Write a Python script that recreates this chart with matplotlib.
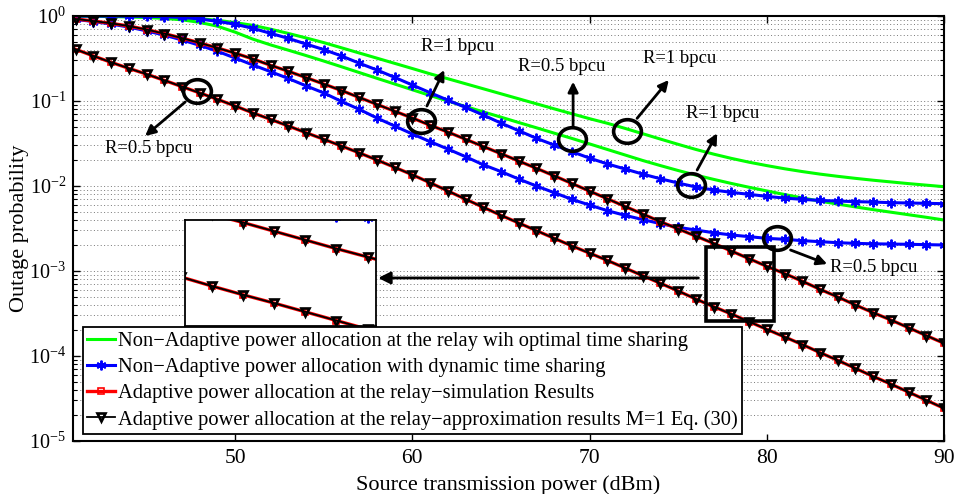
import numpy as np
import matplotlib
matplotlib.use('Agg')
import matplotlib.pyplot as plt
from matplotlib.path import Path
from matplotlib.transforms import Affine2D
from matplotlib.patches import Rectangle
import matplotlib.ticker as mticker

plt.rcParams['font.family'] = ['Liberation Serif', 'DejaVu Serif']
plt.rcParams['mathtext.fontset'] = 'custom'
plt.rcParams['mathtext.rm'] = 'Liberation Serif'
plt.rcParams['mathtext.default'] = 'regular'

# ---------------- data (log10 of outage probability) ----------------
power_dbm = list(range(41, 91))

green_r1_log10 = [-0.000, -0.001, -0.002, -0.004, -0.007, -0.012, -0.020, -0.032, -0.050, -0.078,
                  -0.110, -0.155, -0.205, -0.258, -0.313, -0.374, -0.435, -0.496, -0.557, -0.618,
                  -0.680, -0.738, -0.797, -0.856, -0.915, -0.974, -1.033, -1.092, -1.150, -1.208,
                  -1.262, -1.322, -1.385, -1.448, -1.510, -1.570, -1.625, -1.675, -1.720, -1.760,
                  -1.797, -1.830, -1.860, -1.886, -1.910, -1.932, -1.952, -1.972, -1.990, -2.008]
green_r05_log10 = [-0.002, -0.004, -0.007, -0.011, -0.018, -0.028, -0.045, -0.075, -0.120, -0.190,
                   -0.272, -0.340, -0.402, -0.465, -0.530, -0.597, -0.665, -0.733, -0.800, -0.868,
                   -0.935, -1.000, -1.065, -1.128, -1.190, -1.253, -1.315, -1.378, -1.440, -1.505,
                   -1.570, -1.635, -1.700, -1.760, -1.818, -1.872, -1.922, -1.970, -2.015, -2.058,
                   -2.100, -2.140, -2.178, -2.213, -2.246, -2.278, -2.308, -2.338, -2.368, -2.400]
blue_r1_log10 = [-0.001, -0.001, -0.002, -0.003, -0.004, -0.008, -0.017, -0.035, -0.063, -0.097,
                 -0.145, -0.204, -0.263, -0.330, -0.395, -0.470, -0.555, -0.635, -0.722, -0.812,
                 -0.902, -0.990, -1.075, -1.165, -1.260, -1.349, -1.439, -1.518, -1.596, -1.672,
                 -1.740, -1.800, -1.860, -1.915, -1.965, -2.012, -2.047, -2.075, -2.098, -2.122,
                 -2.142, -2.157, -2.170, -2.177, -2.184, -2.189, -2.196, -2.200, -2.204, -2.208]
blue_r05_log10 = [-0.040, -0.065, -0.095, -0.130, -0.175, -0.225, -0.282, -0.345, -0.415, -0.495,
                  -0.576, -0.655, -0.735, -0.822, -0.905, -1.005, -1.098, -1.200, -1.294, -1.388,
                  -1.478, -1.565, -1.655, -1.750, -1.830, -1.918, -2.000, -2.078, -2.157, -2.224,
                  -2.290, -2.345, -2.395, -2.443, -2.486, -2.518, -2.550, -2.576, -2.596, -2.616,
                  -2.627, -2.643, -2.655, -2.667, -2.675, -2.680, -2.683, -2.686, -2.690, -2.694]
adapt_r1_log10 = [-0.035, -0.059, -0.086, -0.118, -0.160, -0.207, -0.260, -0.316, -0.376, -0.438,
                  -0.505, -0.580, -0.650, -0.725, -0.800, -0.877, -0.958, -1.040, -1.120, -1.200,
                  -1.285, -1.365, -1.450, -1.535, -1.620, -1.706, -1.792, -1.880, -1.970, -2.060,
                  -2.150, -2.240, -2.330, -2.420, -2.505, -2.590, -2.675, -2.765, -2.855, -2.945,
                  -3.030, -3.120, -3.215, -3.305, -3.400, -3.490, -3.576, -3.667, -3.760, -3.850]
adapt_r05_log10 = [-0.392, -0.470, -0.545, -0.616, -0.684, -0.757, -0.831, -0.905, -0.980, -1.059,
                   -1.140, -1.216, -1.294, -1.373, -1.450, -1.530, -1.610, -1.694, -1.780, -1.868,
                   -1.962, -2.058, -2.155, -2.250, -2.345, -2.435, -2.525, -2.615, -2.705, -2.790,
                   -2.875, -2.965, -3.055, -3.145, -3.235, -3.330, -3.420, -3.506, -3.596, -3.686,
                   -3.775, -3.865, -3.960, -4.050, -4.145, -4.240, -4.330, -4.425, -4.520, -4.615]

legend_labels = [
    'Non\u2212Adaptive power allocation at the relay wih optimal time sharing',
    'Non\u2212Adaptive power allocation with dynamic time sharing',
    'Adaptive power allocation at the relay\u2212simulation Results',
    'Adaptive power allocation at the relay\u2212approximation results M=1 Eq. (30)',
]
x_ticks = [50, 60, 70, 80, 90]

# annotations: (text, circle (x, log10 y), arrow tail, arrow head, label position)
ann_text = ['R=0.5 bpcu', 'R=1 bpcu', 'R=0.5 bpcu', 'R=1 bpcu', 'R=1 bpcu', 'R=0.5 bpcu']
ann_circle = [(47.87, -0.879), (60.49, -1.232), (69.01, -1.451), (72.13, -1.353), (75.75, -1.988), (80.59, -2.615)]
ann_tail = [(47.18, -1.012), (60.82, -1.059), (69.07, -1.294), (72.68, -1.204), (76.07, -1.812), (81.34, -2.753)]
ann_head = [(44.92, -1.412), (61.80, -0.635), (69.07, -0.773), (74.47, -0.753), (77.20, -1.380), (83.41, -2.918)]
ann_label = [(45.10, -1.556), (62.56, -0.361), (68.45, -0.596), (75.07, -0.498), (77.48, -1.145), (86.04, -2.956)]

# zoom rectangle and inset ranges
zoom_rect_x = (76.55, 80.40)
zoom_rect_log10 = (-3.585, -2.721)
inset_xlim = (75.14, 81.26)
inset_ylim_log10 = (-3.742, -2.649)
zoom_arrow_x = (76.14, 58.07)
zoom_arrow_log10 = -3.082

# ---------------- figure ----------------
W, H = 958, 494
fig = plt.figure(figsize=(W / 100, H / 100), dpi=100)
ax = fig.add_axes([73 / W, 1 - 441 / H, 871 / W, 425 / H])

x = np.array(power_dbm)
P = lambda v: 10 ** np.asarray(v)

GREEN = '#00ff00'
BLUE = '#0000ff'
RED = '#ff0000'
ast = (6, 2, 0)


def draw_curves(a, with_labels):
    for i, g in enumerate([green_r1_log10, green_r05_log10]):
        a.plot(x, P(g), color=GREEN, lw=2.2, label=legend_labels[0] if (with_labels and i == 0) else None)
    for i, b in enumerate([blue_r1_log10, blue_r05_log10]):
        a.plot(x, P(b), color=BLUE, lw=2.2, marker=ast, ms=7, mew=1.4,
               label=legend_labels[1] if (with_labels and i == 0) else None)
    for i, r in enumerate([adapt_r1_log10, adapt_r05_log10]):
        a.plot(x, P(r), color=RED, lw=2.4, marker='s', ms=5, mfc='none', mec=RED, mew=1.2,
               label=legend_labels[2] if (with_labels and i == 0) else None)
    for i, k in enumerate([adapt_r1_log10, adapt_r05_log10]):
        a.plot(x, P(k), color='black', lw=1.3, marker='v', ms=6, mfc='none', mec='black', mew=1.9,
               label=legend_labels[3] if (with_labels and i == 0) else None)


draw_curves(ax, True)

ax.set_yscale('log')
ax.set_xlim(40.85, 90)
ax.set_ylim(1e-5, 1)
ax.set_xticks(x_ticks)
ax.yaxis.set_major_locator(mticker.LogLocator(base=10, numticks=10))
ax.yaxis.set_minor_locator(mticker.LogLocator(base=10, subs=np.arange(2, 10), numticks=20))
ax.yaxis.set_minor_formatter(mticker.NullFormatter())
ax.yaxis.grid(True, which='both', linestyle=(0, (1, 2.5)), color='#777777', lw=0.7)
ax.set_axisbelow(True)
ax.tick_params(which='both', direction='in', top=True, right=True)
ax.tick_params(axis='x', labelsize=15.5, pad=6)
ax.tick_params(axis='y', labelsize=14.5, pad=5)
ax.tick_params(which='major', length=5, width=1)
ax.tick_params(which='minor', length=3, width=0.8)
for s in ax.spines.values():
    s.set_linewidth(1.5)
ax.set_xlabel('Source transmission power (dBm)', fontsize=16, labelpad=5)
ax.set_ylabel('Outage probability', fontsize=16, labelpad=0)

# legend
leg = ax.legend(loc='lower left', bbox_to_anchor=(0.011, 0.016), borderaxespad=0,
                fontsize=14.8, handlelength=1.36, handletextpad=0.15, borderpad=0.22,
                labelspacing=0.33, fancybox=False, framealpha=1, edgecolor='black')
leg.get_frame().set_linewidth(1.3)
leg.set_zorder(5)

# annotation circles, arrows and labels
oval = Path(Affine2D().scale(1.0, 0.85).transform(Path.unit_circle().vertices), Path.unit_circle().codes)
for t, c, tl, hd, lb in zip(ann_text, ann_circle, ann_tail, ann_head, ann_label):
    ax.plot([c[0]], [10 ** c[1]], marker=oval, ms=20, mfc='none', mec='black', mew=2.6, zorder=6)
    ax.annotate('', xy=(hd[0], 10 ** hd[1]), xytext=(tl[0], 10 ** tl[1]),
                arrowprops=dict(arrowstyle='-|>', lw=2, color='black', mutation_scale=15,
                                shrinkA=0, shrinkB=0), zorder=6)
    ax.text(lb[0], 10 ** lb[1], t, fontsize=13.4, ha='center', va='center', zorder=6)

# zoom rectangle and arrow to inset
ax.add_patch(Rectangle((zoom_rect_x[0], 10 ** zoom_rect_log10[0]),
                       zoom_rect_x[1] - zoom_rect_x[0],
                       10 ** zoom_rect_log10[1] - 10 ** zoom_rect_log10[0],
                       fill=False, lw=2.6, edgecolor='black', zorder=6))
ax.annotate('', xy=(zoom_arrow_x[1], 10 ** zoom_arrow_log10), xytext=(zoom_arrow_x[0], 10 ** zoom_arrow_log10),
            arrowprops=dict(arrowstyle='-|>', lw=2, color='black', mutation_scale=18,
                            shrinkA=0, shrinkB=0), zorder=6)

# inset
axins = fig.add_axes([185 / W, 1 - 326 / H, 190.7 / W, 106 / H])
axins.set_zorder(7)
draw_curves(axins, False)
axins.set_yscale('log')
axins.set_xlim(*inset_xlim)
axins.set_ylim(10 ** inset_ylim_log10[0], 10 ** inset_ylim_log10[1])
axins.set_xticks([])
axins.yaxis.set_major_locator(mticker.NullLocator())
axins.yaxis.set_minor_locator(mticker.NullLocator())
for s in axins.spines.values():
    s.set_linewidth(1.3)

fig.savefig('out.png', dpi=100)
